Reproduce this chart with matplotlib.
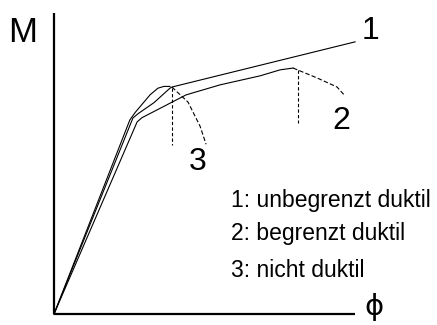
import numpy as np
import matplotlib
matplotlib.use("Agg")
import matplotlib.pyplot as plt

plt.rcParams['font.family'] = ['Liberation Sans', 'DejaVu Sans']

# curve points (phi, M), axis length = 10 units
phi_1 = [0.0, 2.62, 2.80, 3.32, 3.85, 3.92, 10.0]
m_1 = [0.0, 6.51, 6.66, 7.02, 7.50, 7.54, 9.04]

phi_2 = [0.0, 2.76, 2.92, 4.39, 5.51, 6.84, 7.51, 7.94]
m_2 = [0.0, 6.38, 6.52, 7.28, 7.61, 7.91, 8.11, 8.17]
phi_2_drop = [7.94, 8.74, 9.40, 9.67]
m_2_drop = [8.17, 7.84, 7.54, 7.24]
phi_2_fail = 8.11
m_2_fail = [8.11, 6.35]

phi_3 = [0.0, 2.52, 2.70, 3.19, 3.45, 3.65, 3.85]
m_3 = [0.0, 6.45, 6.70, 7.28, 7.50, 7.56, 7.56]
phi_3_drop = [3.92, 4.02, 4.45, 4.85, 5.05]
m_3_drop = [7.54, 7.44, 7.04, 6.24, 5.64]
phi_3_fail = 3.92
m_3_fail = [7.51, 5.61]

legend_lines = ["1: unbegrenzt duktil", "2: begrenzt duktil", "3: nicht duktil"]
legend_y = [3.55, 2.46, 1.23]

fig = plt.figure(figsize=(4.37, 3.25), dpi=100)
ax = fig.add_axes([0, 0, 1, 1])
ax.set_xlim(-1.794, 12.72)
ax.set_ylim(-0.365, 10.43)
ax.axis('off')

# axes
ax.plot([0, 0], [0, 10.0], color='black', lw=1.6, solid_capstyle='butt')
ax.plot([0, 10.0], [0, 0], color='black', lw=1.6, solid_capstyle='butt')

# curves
ax.plot(phi_1, m_1, color='black', lw=0.8)
ax.plot(phi_2, m_2, color='black', lw=0.8)
ax.plot(phi_3, m_3, color='black', lw=0.8)
ax.plot(phi_2_drop, m_2_drop, color='black', lw=0.8, ls=(0, (4, 2)))
ax.plot(phi_3_drop, m_3_drop, color='black', lw=0.8, ls=(0, (4, 2)))
ax.plot([phi_2_fail] * 2, m_2_fail, color='black', lw=0.8, ls=(0, (3, 2)))
ax.plot([phi_3_fail] * 2, m_3_fail, color='black', lw=0.8, ls=(0, (3, 2)))

# labels
ax.text(-1.03, 9.35, "M", fontsize=25, ha='center', va='center')
ax.text(10.5, 9.39, "1", fontsize=23, ha='center', va='center')
ax.text(9.53, 6.41, "2", fontsize=23, ha='center', va='center')
ax.text(4.78, 5.05, "3", fontsize=23, ha='center', va='center')
ax.text(10.63, 0.23, "\u03d5", fontsize=21, ha='center', va='center',
        family=['DejaVu Sans'])

for txt, y in zip(legend_lines, legend_y):
    ax.text(5.88, y, txt, fontsize=16.5, ha='left', va='baseline')

fig.savefig("out.png", dpi=100)
